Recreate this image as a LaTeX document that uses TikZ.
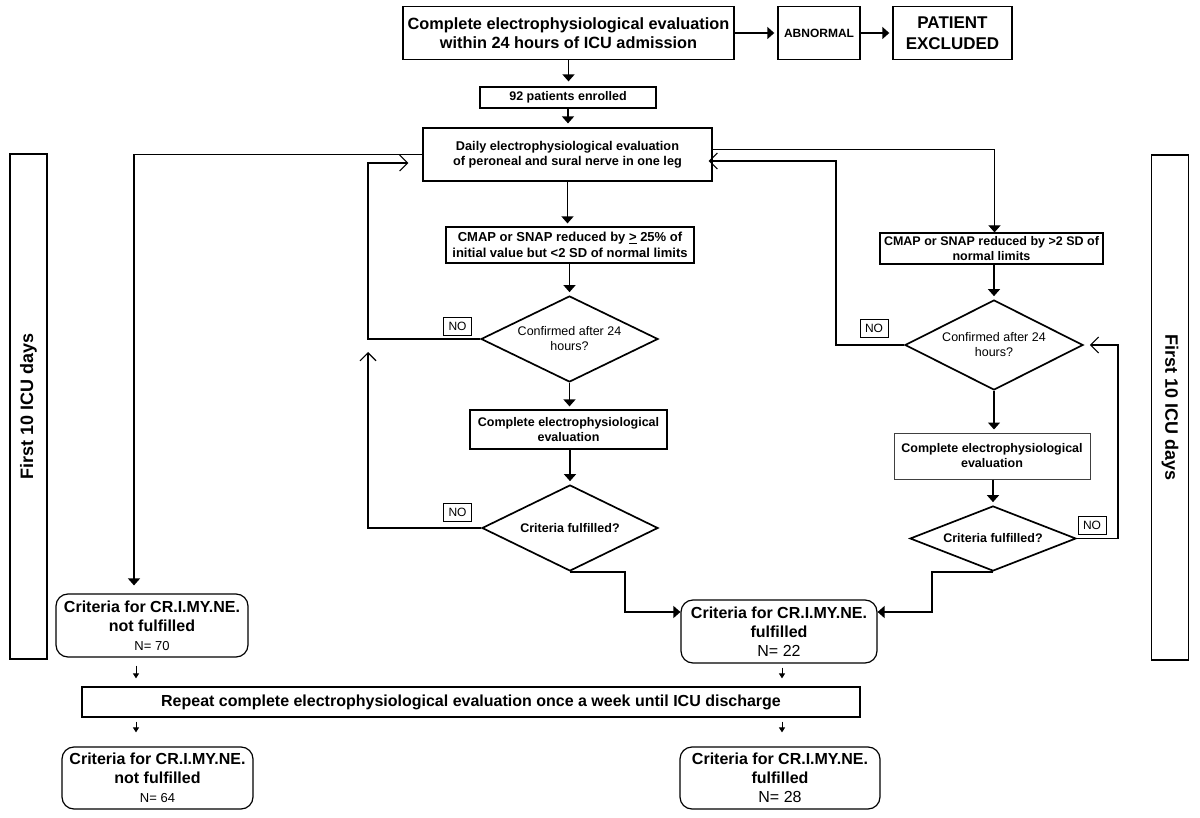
\documentclass[tikz,border=0pt]{standalone}
\usepackage{fontspec}
\setmainfont{Liberation Sans}
\usetikzlibrary{shapes.geometric,arrows.meta}
\begin{document}
\begin{tikzpicture}[x=1pt,y=-1pt,
  every node/.style={inner sep=0pt, align=center},
  bx/.style={draw, line width=1.4pt},
  rbx/.style={draw, line width=1.2pt, rounded corners=12pt},
  dm/.style={draw, diamond, line width=1.7pt, inner sep=0pt},
  ln/.style={line width=1.4pt},
  tip/.style={-{Triangle[length=7pt,width=12pt]}, shorten >=3pt},
  otip/.style={-{Straight Barb[length=8pt,width=16pt,line width=1.1pt]}},
  stip/.style={-{Triangle[length=5pt,width=6pt]}, line width=1pt},
  nob/.style={draw, line width=0.8pt, font=\fontsize{12}{14}\selectfont, minimum width=28pt, minimum height=18pt},
  big/.style={font=\bfseries\fontsize{16}{19}\selectfont},
  mid/.style={font=\bfseries\fontsize{12.5}{15}\selectfont},
]
\useasboundingbox (0,0) rectangle (1200,818);
\fill[white] (0,0) rectangle (1200,818);

% top row
\node[bx, font=\bfseries\fontsize{16.3}{19.5}\selectfont, minimum width=331, minimum height=53] (top) at (568.5,33)
  {Complete electrophysiological evaluation\\within 24 hours of ICU admission};
\node[bx, font=\bfseries\fontsize{12}{14}\selectfont, minimum width=82, minimum height=53] (abn) at (819,33) {ABNORMAL};
\node[bx, font=\bfseries\fontsize{17}{21}\selectfont, minimum width=119, minimum height=53] (pex) at (952.5,33) {PATIENT\\EXCLUDED};
\node[bx, line width=1.2pt, font=\bfseries\fontsize{12.5}{15}\selectfont, minimum width=176, minimum height=21] (enr) at (568,97.5) {92 patients enrolled};
\node[bx, line width=1.2pt, font=\bfseries\fontsize{12.7}{15.5}\selectfont, minimum width=289, minimum height=53] (daily) at (567.5,154.5)
  {Daily electrophysiological evaluation\\of peroneal and sural nerve in one leg};

% left column
\node[bx, line width=1.2pt, font=\bfseries\fontsize{13}{15.5}\selectfont, minimum width=248, minimum height=36] (cmapL) at (570,245)
  {CMAP or SNAP reduced by \underline{>} 25\% of\\initial value but <2 SD of normal limits};
\node[dm, aspect=2.05, font=\fontsize{12.5}{15}\selectfont, minimum width=177, minimum height=86] (d1) at (569.5,339) {Confirmed after 24\\hours?};
\node[bx, line width=1.2pt, mid, minimum width=197, minimum height=39] (ceL) at (568.5,429.5) {Complete electrophysiological\\evaluation};
\node[dm, aspect=2.05, mid, minimum width=176, minimum height=86] (d2) at (570,528) {Criteria fulfilled?};

% right column
\node[bx, line width=1.2pt, mid, minimum width=223, minimum height=31] (cmapR) at (991.5,248.5)
  {CMAP or SNAP reduced by >2 SD of\\normal limits};
\node[dm, aspect=1.98, font=\fontsize{12.5}{15}\selectfont, minimum width=178, minimum height=90] (d3) at (994,345) {Confirmed after 24\\hours?};
\node[bx, line width=1pt, draw=black!75, mid, minimum width=196, minimum height=46] (ceR) at (992,456) {Complete electrophysiological\\evaluation};
\node[dm, aspect=2.55, mid, minimum width=166, minimum height=65] (d4) at (993,538.5) {Criteria fulfilled?};

% NO labels
\node[nob] (no1) at (457.5,326) {NO};
\node[nob] (no2) at (457.5,512) {NO};
\node[nob] (no3) at (874,328.5) {NO};
\node[nob] (no4) at (1092,525) {NO};

% side bars
\node[bx, line width=1.2pt, rotate=90, minimum width=505, minimum height=37, font=\bfseries\fontsize{18}{21}\selectfont] (firstL) at (28.5,406.5) {First 10 ICU days};
\node[bx, line width=1.2pt, rotate=-90, minimum width=505, minimum height=37, font=\bfseries\fontsize{18}{21}\selectfont] (firstR) at (1170,407.5) {First 10 ICU days};

% outcome boxes
\node[rbx, big, minimum width=192, minimum height=63] (crit70) at (152,625.5)
  {Criteria for CR.I.MY.NE.\\not fulfilled\\{\mdseries\fontsize{13}{15}\selectfont N= 70}};
\node[rbx, big, minimum width=196, minimum height=63] (crit22) at (779,631.5)
  {Criteria for CR.I.MY.NE.\\fulfilled\\{\mdseries N= 22}};
\node[bx, line width=1.2pt, big, minimum width=778, minimum height=30] (rep) at (471,702)
  {Repeat complete electrophysiological evaluation once a week until ICU discharge};
\node[rbx, big, minimum width=191, minimum height=62] (crit64) at (157.5,778)
  {Criteria for CR.I.MY.NE.\\not fulfilled\\{\mdseries\fontsize{13}{15}\selectfont N= 64}};
\node[rbx, big, minimum width=200, minimum height=62] (crit28) at (780,778)
  {Criteria for CR.I.MY.NE.\\fulfilled\\{\mdseries N= 28}};

% helper coordinates
\coordinate (l1) at (368,163);
\coordinate (l2) at (368,352);
\coordinate (r1) at (836,161);
\coordinate (r2) at (1118,345);
\coordinate (m1) at (625,612);
\coordinate (m2) at (932,612);
\coordinate (xl) at (134,0);
\coordinate (xs) at (136,0);
\coordinate (xr) at (782,0);

% connectors
\draw[ln,tip] (top.east) -- (abn.west);
\draw[ln,tip] (abn.east) -- (pex.west);
\draw[ln,tip,shorten >=5pt] (top.south) -- (top.south |- enr.north);
\draw[ln,tip,shorten >=4pt] (enr.south) -- (enr.south |- daily.north);
\draw[ln,tip] (daily.south) -- (daily.south |- cmapL.north);
\draw[ln,tip] (d1.north |- cmapL.south) -- (d1.north);
\draw[ln,tip] (d1.south) -- (d1.south |- ceL.north);
\draw[ln,tip] (d2.north |- ceL.south) -- (d2.north);

\draw[ln,tip,shorten >=8pt] (daily.west) -| (xl |- crit70.north);
\draw[line width=0.9pt,tip,shorten >=0pt] ([yshift=5pt]daily.east) -| ([xshift=3pt]cmapR.north);
\draw[ln,tip] ([xshift=2.5pt]cmapR.south) -- (d3.north);
\draw[ln,tip] (d3.south) -- (d3.south |- ceR.north);
\draw[ln,tip] (d4.north |- ceR.south) -- (d4.north);

\draw[ln,otip,shorten >=14pt] (d1.west) -| (l1) -- (l1 -| daily.west);
\draw[ln,otip] (d2.west) -| (l2);
\draw[ln,otip,shorten >=-4pt] (d3.west) -| (r1) -- (r1 -| daily.east);
\draw[ln,otip,shorten >=6pt] (d4.east) -| (r2) -- (d3.east);

\draw[ln,tip,shorten >=0pt] (d2.south) -| (m1) -- (m1 -| crit22.west);
\draw[ln,tip,shorten >=0pt] (d4.south) -| (m2) -- (m2 -| crit22.east);

\draw[stip,shorten <=8pt,shorten >=8pt] (xs |- crit70.south) -- (xs |- rep.north);
\draw[stip,shorten <=4pt,shorten >=8pt] (xr |- crit22.south) -- (xr |- rep.north);
\draw[stip,shorten <=4pt,shorten >=14pt] (xs |- rep.south) -- (xs |- crit64.north);
\draw[stip,shorten <=4pt,shorten >=14pt] (xr |- rep.south) -- (xr |- crit28.north);
\end{tikzpicture}
\end{document}
